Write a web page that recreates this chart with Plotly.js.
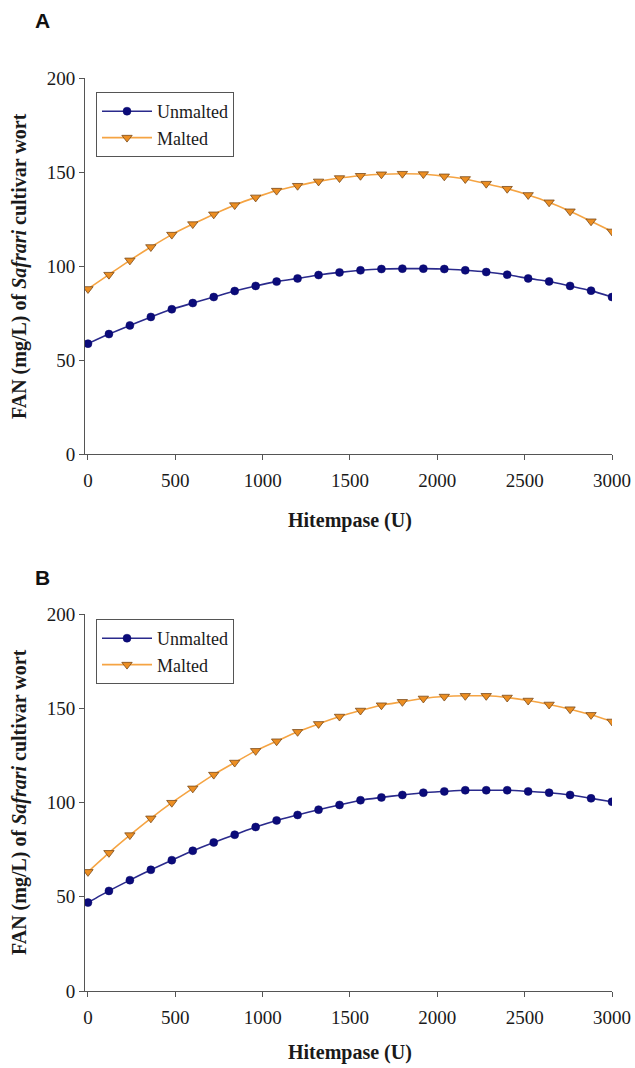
<!DOCTYPE html>
<html>
<head>
<meta charset="utf-8">
<script src="https://cdn.plot.ly/plotly-3.0.1.min.js"></script>
<style>html,body{margin:0;padding:0;background:#fff;}#chart{width:635px;height:1068px;}</style>
</head>
<body>
<div id="chart"></div>
<script>
const hitempase = [0,120,240,360,480,600,720,840,960,1080,1200,1320,1440,1560,1680,1800,1920,2040,2160,2280,2400,2520,2640,2760,2880,3000];

const unmaltedA = [58.7,63.8,68.4,72.9,77.0,80.3,83.5,86.7,89.4,91.7,93.4,95.2,96.6,97.7,98.4,98.6,98.6,98.4,97.7,96.8,95.4,93.4,91.8,89.4,86.9,83.5];
const maltedA = [87.8,95.4,103.0,110.1,116.7,122.3,127.5,132.4,136.5,140.1,142.7,145.0,146.8,148.0,148.8,149.1,148.9,147.7,146.3,143.8,141.1,137.8,133.9,129.1,123.8,118.4];

const unmaltedB = [46.9,53.1,58.8,64.3,69.4,74.4,78.8,82.9,87.0,90.5,93.4,96.2,98.7,101.2,102.7,104.0,105.2,105.9,106.5,106.5,106.5,105.9,105.2,104.0,102.2,100.4];
const maltedB = [63.2,73.3,82.7,91.6,99.9,107.5,114.8,121.2,127.4,132.5,137.5,141.7,145.6,148.8,151.6,153.4,155.2,156.2,156.6,156.6,155.7,154.1,152.0,149.5,146.5,143.0];

const seriesNames = ["Unmalted", "Malted"];
const xTickVals = [0,500,1000,1500,2000,2500,3000];
const yTickVals = [0,50,100,150,200];
const panelLabels = ["A", "B"];
const xTitle = "Hitempase (U)";
const yTitle = "FAN (mg/L) of <i>Safrari</i> cultivar wort";

const W = 635, H = 1068;
const SERIF = 'Liberation Serif, Times New Roman, serif';
const blueLine = {color:'#2a2a8c', width:1.6, shape:'spline', smoothing:0.6};
const blueMarker = {symbol:'circle', size:8, color:'#0b0b7a', line:{color:'#0b0b6a', width:0.5}};
const orangeLine = {color:'#f5a443', width:1.6, shape:'spline', smoothing:0.6};
const orangeMarker = {symbol:'triangle-down', size:9, color:'#ec8e22', line:{color:'#7a4a1a', width:0.8}};

const traces = [
  {x:hitempase, y:unmaltedA, name:seriesNames[0], mode:'lines+markers', line:blueLine, marker:blueMarker, xaxis:'x', yaxis:'y', legend:'legend'},
  {x:hitempase, y:maltedA, name:seriesNames[1], mode:'lines+markers', line:orangeLine, marker:orangeMarker, xaxis:'x', yaxis:'y', legend:'legend'},
  {x:hitempase, y:unmaltedB, name:seriesNames[0], mode:'lines+markers', line:blueLine, marker:blueMarker, xaxis:'x2', yaxis:'y2', legend:'legend2'},
  {x:hitempase, y:maltedB, name:seriesNames[1], mode:'lines+markers', line:orangeLine, marker:orangeMarker, xaxis:'x2', yaxis:'y2', legend:'legend2'}
];

const tickFont = {family:SERIF, size:19, color:'#1a1a1a'};
const xDomain = [85/W, 612/W];
function xax(anchor){
  return {domain:xDomain, range:[-17,3000], tickvals:xTickVals, ticks:'outside', ticklen:5, tickcolor:'#555',
    showline:true, linecolor:'#555', linewidth:1, showgrid:false, zeroline:false, tickfont:tickFont, anchor:anchor, fixedrange:true, ticklabelstandoff:4};
}
function yax(top, bottom, anchor){
  return {domain:[1-bottom/H, 1-top/H], range:[0,200], tickvals:yTickVals, ticks:'outside', ticklen:5, tickcolor:'#555',
    showline:true, linecolor:'#555', linewidth:1, showgrid:false, zeroline:false, tickfont:tickFont, anchor:anchor, fixedrange:true};
}
const legendBase = {font:{family:SERIF, size:18, color:'#1a1a1a'},
  bordercolor:'#555', borderwidth:1, bgcolor:'#fff', xanchor:'left', yanchor:'top', tracegroupgap:0, itemwidth:50};

const titleFont = {family:SERIF, size:20, color:'#1a1a1a', weight:'bold'};
const panelFont = {family:'Liberation Sans, Arial, sans-serif', size:21, color:'#111', weight:'bold'};

const annotations = [
  {text:panelLabels[0], x:33/W, y:1-20/H, xref:'paper', yref:'paper', xanchor:'left', yanchor:'middle', showarrow:false, font:panelFont},
  {text:panelLabels[1], x:33/W, y:1-577/H, xref:'paper', yref:'paper', xanchor:'left', yanchor:'middle', showarrow:false, font:panelFont},
  {text:'<b>'+xTitle+'</b>', x:350/W, y:1-520/H, xref:'paper', yref:'paper', xanchor:'center', yanchor:'middle', showarrow:false, font:titleFont},
  {text:'<b>'+xTitle+'</b>', x:350/W, y:1-1052/H, xref:'paper', yref:'paper', xanchor:'center', yanchor:'middle', showarrow:false, font:titleFont},
  {text:'<b>'+yTitle+'</b>', x:19/W, y:1-266/H, xref:'paper', yref:'paper', xanchor:'center', yanchor:'middle', textangle:-90, showarrow:false, font:titleFont},
  {text:'<b>'+yTitle+'</b>', x:19/W, y:1-802/H, xref:'paper', yref:'paper', xanchor:'center', yanchor:'middle', textangle:-90, showarrow:false, font:titleFont}
];

const layout = {
  width:W, height:H, margin:{l:0,r:0,t:0,b:0}, paper_bgcolor:'#fff', plot_bgcolor:'#fff',
  xaxis:xax('y'), yaxis:yax(78,454,'x'),
  xaxis2:xax('y2'), yaxis2:yax(614,991,'x2'),
  legend:Object.assign({}, legendBase, {x:96/W, y:1-92/H}),
  legend2:Object.assign({}, legendBase, {x:96/W, y:1-619/H}),
  annotations:annotations,
  showlegend:true
};

Plotly.newPlot('chart', traces, layout, {staticPlot:true, displayModeBar:false});
</script>
</body>
</html>
